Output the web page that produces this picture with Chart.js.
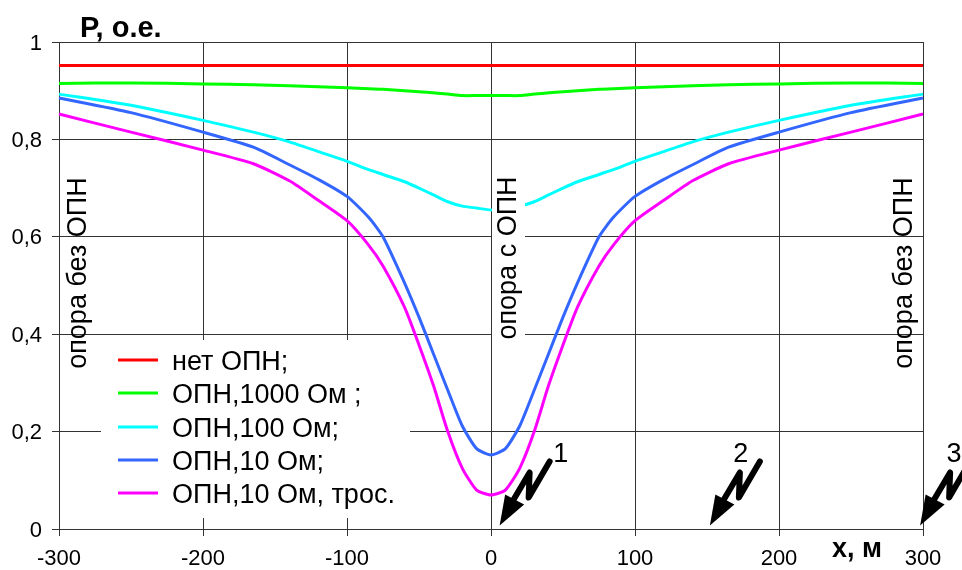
<!DOCTYPE html>
<html lang="ru">
<head>
<meta charset="UTF-8">
<title>P, о.е.</title>
<style>
  html, body { margin: 0; padding: 0; background: #fff; }
  canvas { display: block; }
</style>
</head>
<body>
<canvas id="myChart" width="962" height="570"></canvas>
<script src="https://cdn.jsdelivr.net/npm/chart.js"></script>
<script>
  const xValues = [-300, -250, -200, -165, -140, -120, -100, -85, -75, -60, -50, -40, -30, -20, -10, 0,
                   10, 20, 30, 40, 50, 60, 75, 85, 100, 120, 140, 165, 200, 250, 300];

  const noArrester = [0.952, 0.952, 0.952, 0.952, 0.952, 0.952, 0.952, 0.952, 0.952, 0.952, 0.952, 0.952, 0.952, 0.952, 0.952, 0.952,
                      0.952, 0.952, 0.952, 0.952, 0.952, 0.952, 0.952, 0.952, 0.952, 0.952, 0.952, 0.952, 0.952, 0.952, 0.952];
  const arrester1000 = [0.915, 0.916, 0.914, 0.912, 0.91, 0.908, 0.906, 0.904, 0.903, 0.9, 0.898, 0.896, 0.893, 0.89, 0.89, 0.89,
                        0.89, 0.89, 0.893, 0.896, 0.898, 0.9, 0.903, 0.904, 0.906, 0.908, 0.91, 0.912, 0.914, 0.916, 0.915];
  const arrester100 = [0.893, 0.87, 0.839, 0.815, 0.795, 0.775, 0.755, 0.738, 0.728, 0.713, 0.7, 0.686, 0.672, 0.663, 0.659, 0.655,
                       0.659, 0.663, 0.672, 0.686, 0.7, 0.713, 0.728, 0.738, 0.755, 0.775, 0.795, 0.815, 0.839, 0.87, 0.893];
  const arrester10 = [0.885, 0.855, 0.815, 0.784, 0.748, 0.718, 0.683, 0.64, 0.6, 0.505, 0.435, 0.36, 0.285, 0.212, 0.165, 0.152,
                      0.165, 0.212, 0.285, 0.36, 0.435, 0.505, 0.6, 0.64, 0.683, 0.718, 0.748, 0.784, 0.815, 0.855, 0.885];
  const arrester10Wire = [0.852, 0.815, 0.778, 0.75, 0.715, 0.675, 0.633, 0.583, 0.54, 0.455, 0.378, 0.295, 0.2, 0.125, 0.08, 0.07,
                          0.08, 0.125, 0.2, 0.295, 0.378, 0.455, 0.54, 0.583, 0.633, 0.675, 0.715, 0.75, 0.778, 0.815, 0.852];

  const seriesNames = ['нет ОПН;', 'ОПН,1000 Ом ;', 'ОПН,100 Ом;', 'ОПН,10 Ом;', 'ОПН,10 Ом, трос.'];
  const seriesColors = ['#ff0000', '#00ff00', '#00ffff', '#3366ff', '#ff00ff'];
  const seriesValues = [noArrester, arrester1000, arrester100, arrester10, arrester10Wire];

  const yTickLabels = { 0: '0', 0.2: '0,2', 0.4: '0,4', 0.6: '0,6', 0.8: '0,8', 1: '1' };
  const faultPoints = [6, 152, 298];
  const faultNames = ['1', '2', '3'];
  const faultNameShift = [61, 31, 34];

  const font = 'Liberation Sans, Arial, sans-serif';

  function verticalText(c, text, px, py) {
    c.save();
    c.translate(px, py);
    c.rotate(-Math.PI / 2);
    c.textAlign = 'center';
    c.textBaseline = 'middle';
    c.font = '27px ' + font;
    c.fillStyle = '#000';
    c.fillText(text, 0, 0);
    c.restore();
  }

  // white legend panel goes under the curves, everything else on top of them
  const decorations = {
    id: 'decorations',
    beforeDatasetsDraw(chart) {
      const c = chart.ctx;
      c.fillStyle = '#fff';
      c.fillRect(101, 340, 309, 178);
    },
    afterDatasetsDraw(chart) {
      const c = chart.ctx;
      const x = chart.scales.x, y = chart.scales.y;

      // legend
      const rows = [360, 393, 427, 460, 493];
      chart.data.datasets.forEach(function (ds, i) {
        c.strokeStyle = ds.borderColor;
        c.lineWidth = 3;
        c.beginPath();
        c.moveTo(118, rows[i]);
        c.lineTo(158, rows[i]);
        c.stroke();
        c.fillStyle = '#000';
        c.font = '27px ' + font;
        c.textAlign = 'left';
        c.textBaseline = 'middle';
        c.fillText(ds.label, 172, rows[i] + 3);
      });

      // support labels
      c.fillStyle = '#fff';
      c.fillRect(x.getPixelForValue(0) + 1, 172, 33, 170);
      verticalText(c, 'опора без ОПН', 79, 273);
      verticalText(c, 'опора с ОПН', 509, 258);
      verticalText(c, 'опора без ОПН', 905, 273);

      // axis names
      c.fillStyle = '#000';
      c.textAlign = 'left';
      c.textBaseline = 'alphabetic';
      c.font = 'bold 29px ' + font;
      c.fillText('P, о.е.', 80, 37);
      c.font = 'bold 27px ' + font;
      c.fillText('x, м', 832, 557);

      // lightning arrows
      faultPoints.forEach(function (p, i) {
        const tx = x.getPixelForValue(p), ty = y.getPixelForValue(0) - 3.5;
        c.fillStyle = '#000';
        c.strokeStyle = '#000';
        c.beginPath();
        c.moveTo(tx, ty);
        c.lineTo(tx + 5.5, ty - 31);
        c.lineTo(tx + 24.5, ty - 21);
        c.closePath();
        c.fill();
        c.lineWidth = 6;
        c.lineCap = 'round';
        c.lineJoin = 'round';
        c.beginPath();
        c.moveTo(tx + 14, ty - 26);
        c.lineTo(tx + 30, ty - 53);
        c.lineTo(tx + 29, ty - 28);
        c.lineTo(tx + 50, ty - 64);
        c.stroke();
        c.lineCap = 'butt';
        c.font = '27px ' + font;
        c.textAlign = 'center';
        c.textBaseline = 'middle';
        c.fillText(faultNames[i], tx + faultNameShift[i], ty - 71);
      });
    }
  };

  new Chart(document.getElementById('myChart'), {
    type: 'line',
    plugins: [decorations],
    data: {
      labels: xValues,
      datasets: seriesValues.map(function (vals, i) {
        return {
          label: seriesNames[i],
          data: vals.map(function (v, k) { return { x: xValues[k], y: v }; }),
          borderColor: seriesColors[i],
          borderWidth: 3,
          pointRadius: 0,
          tension: 0.2,
          clip: false
        };
      })
    },
    options: {
      responsive: false,
      animation: false,
      layout: { padding: { top: 42, right: 39, left: 0, bottom: 0 } },
      plugins: { legend: { display: false }, tooltip: { enabled: false } },
      scales: {
        x: {
          type: 'linear',
          min: -300,
          max: 300,
          afterFit(scale) { scale.height = 41; scale.paddingLeft = 0; scale.paddingRight = 0; },
          border: { color: '#333', width: 1 },
          grid: { color: '#333', lineWidth: 1, tickLength: 7 },
          ticks: {
            stepSize: 100,
            maxRotation: 0,
            padding: 10,
            color: '#000',
            font: { family: font, size: 22 }
          }
        },
        y: {
          min: 0,
          max: 1,
          afterFit(scale) { scale.width = 59; scale.paddingTop = 0; scale.paddingBottom = 0; },
          border: { color: '#333', width: 1 },
          grid: { color: '#333', lineWidth: 1, tickLength: 7 },
          ticks: {
            stepSize: 0.2,
            padding: 10,
            labelOffset: 1.5,
            color: '#000',
            font: { family: font, size: 22 },
            callback: function (v) { return yTickLabels[Math.round(v * 10) / 10]; }
          }
        }
      }
    }
  });
</script>
</body>
</html>
